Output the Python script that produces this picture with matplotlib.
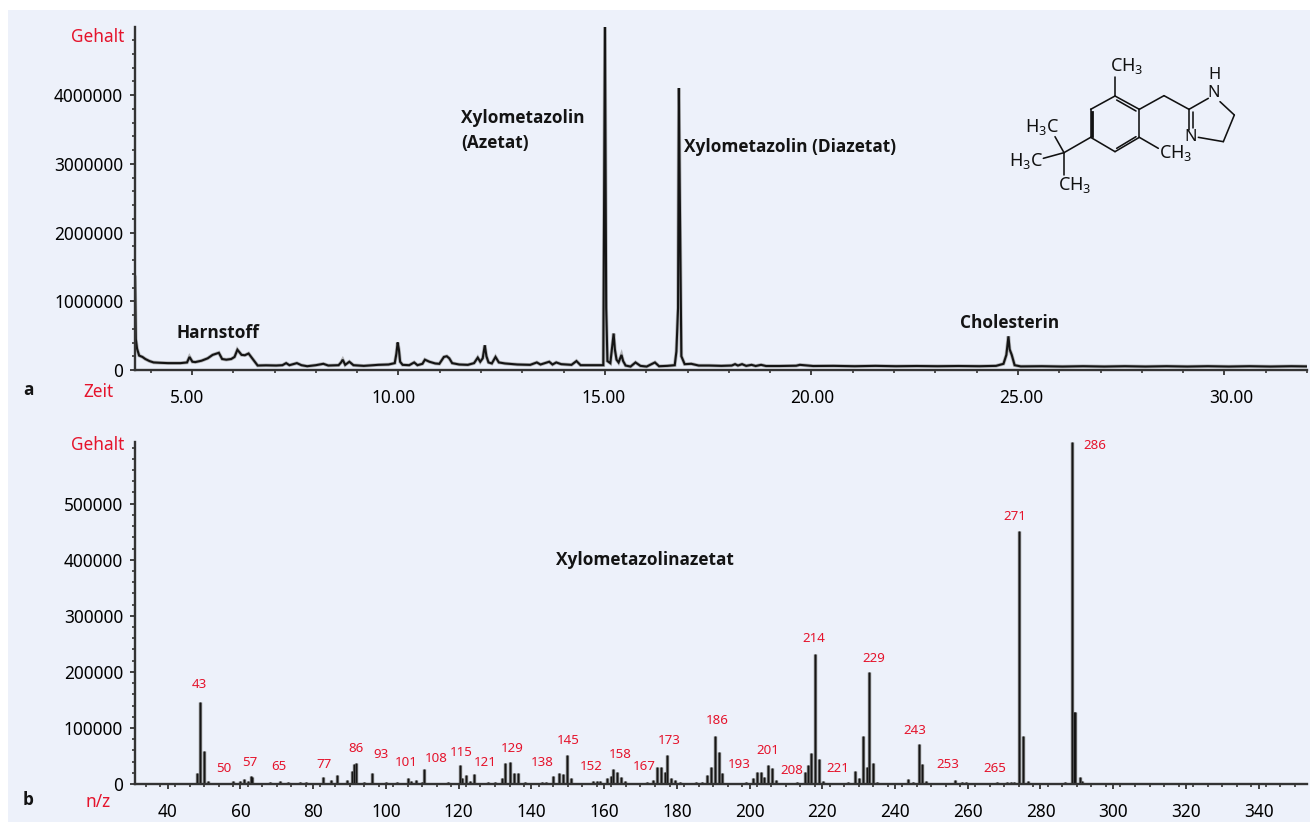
import matplotlib
matplotlib.use("Agg")
import matplotlib.pyplot as plt
from matplotlib.patches import Rectangle
from matplotlib.transforms import ScaledTranslation

plt.rcParams['font.family'] = ['Noto Sans', 'DejaVu Sans']
plt.rcParams['mathtext.default'] = 'regular'

# ---- data ----
tic_time = [3.62, 3.64, 3.67, 3.72, 3.80, 3.87, 3.97, 4.07, 4.22, 4.42, 4.72, 4.88, 4.94, 5.01, 5.08, 5.23, 5.38, 5.50, 5.65,
            5.73, 5.83, 5.95, 6.03, 6.10, 6.20, 6.28, 6.37, 6.47, 6.59, 6.79, 7.04, 7.19, 7.28, 7.36, 7.54, 7.65, 7.79, 8.00,
            8.18, 8.30, 8.55, 8.61, 8.65, 8.71, 8.81, 8.91, 9.16, 9.51, 9.76, 9.91, 9.95, 9.98, 10.01, 10.04, 10.10, 10.26,
            10.38, 10.46, 10.58, 10.64, 10.75, 10.89, 10.99, 11.10, 11.17, 11.23, 11.30, 11.47, 11.68, 11.83, 11.92, 11.98,
            12.04, 12.09, 12.13, 12.18, 12.26, 12.35, 12.43, 12.58, 12.88, 13.19, 13.35, 13.44, 13.65, 13.73, 13.82, 13.94,
            14.19, 14.31, 14.41, 14.70, 14.96, 14.98, 15.00, 15.02, 15.03, 15.06, 15.13, 15.21, 15.24, 15.28, 15.33, 15.40,
            15.44, 15.50, 15.62, 15.74, 15.86, 16.01, 16.21, 16.31, 16.51, 16.69, 16.73, 16.77, 16.79, 16.81, 16.85, 16.93,
            17.09, 17.27, 17.52, 17.82, 18.07, 18.15, 18.22, 18.32, 18.42, 18.55, 18.65, 18.78, 18.90, 19.23, 19.63, 19.72,
            20.04, 20.54, 21.05, 21.55, 22.05, 22.55, 23.06, 23.56, 24.07, 24.47, 24.65, 24.72, 24.77, 24.80, 24.85, 24.92,
            25.07, 25.58, 26.08, 26.58, 27.09, 27.59, 28.09, 28.60, 29.10, 29.60, 30.11, 30.61, 31.12, 31.62, 32.00]
tic_signal = [1350000, 450000, 310000, 210000, 190000, 160000, 130000, 110000, 105000, 100000, 100000, 110000, 190000, 120000,
              115000, 135000, 170000, 220000, 250000, 160000, 150000, 160000, 190000, 295000, 220000, 215000, 240000, 160000,
              65000, 68000, 65000, 70000, 100000, 70000, 100000, 70000, 55000, 70000, 90000, 65000, 70000, 110000, 150000, 75000,
              120000, 70000, 60000, 75000, 80000, 100000, 240000, 400000, 300000, 120000, 75000, 70000, 110000, 70000, 90000, 150000,
              120000, 95000, 90000, 190000, 200000, 170000, 100000, 80000, 75000, 100000, 180000, 120000, 170000, 360000, 200000,
              110000, 95000, 190000, 110000, 95000, 80000, 75000, 110000, 80000, 120000, 80000, 110000, 85000, 75000, 130000,
              70000, 70000, 70000, 2700000, 5000000, 2000000, 900000, 130000, 100000, 530000, 300000, 150000, 110000, 220000,
              130000, 65000, 50000, 110000, 60000, 50000, 110000, 55000, 60000, 70000, 270000, 900000, 4100000, 2700000, 200000,
              85000, 90000, 65000, 65000, 60000, 65000, 85000, 65000, 85000, 60000, 75000, 58000, 75000, 58000, 58000, 62000, 75000,
              58000, 60000, 55000, 60000, 55000, 58000, 55000, 58000, 55000, 60000, 90000, 220000, 490000, 300000, 220000, 70000, 52000,
              55000, 50000, 55000, 50000, 55000, 50000, 55000, 50000, 55000, 50000, 55000, 50000, 55000, 52000]

ms_mz = [48, 48.8, 49.9, 51, 58, 60, 60.9, 62, 62.8, 63.3, 68, 70.8, 73, 76.3, 78, 82.6, 84.8, 86.6, 89.2, 90.8, 91.2, 91.8,
         94, 96.2, 100, 103, 106.2, 107, 108.3, 109.8, 110.6, 117, 120.4, 120.8, 122, 123.1, 124.2, 128, 130, 131.8, 132.8, 134,
         135.3, 136.3, 138.2, 143, 144.1, 146, 147.6, 148.7, 149.9, 151, 157, 158, 159, 160.8, 162, 162.5, 163.6, 164.6, 165.7,
         171.7, 173.5, 174.6, 175.6, 176.7, 177.4, 178.4, 179.5, 180.8, 185.4, 187, 188.4, 189.4, 190.5, 191.6, 192.5, 197, 199,
         201, 202.1, 203.1, 204, 205.2, 206.3, 207.4, 213, 215.2, 216.2, 216.9, 218, 219, 220.1, 224, 227, 229, 230, 231.1,
         232.2, 232.9, 233.9, 235, 240, 243.5, 245, 246.5, 247.5, 248.5, 252, 256.4, 258.3, 259.4, 268, 270.7, 272, 272.6, 274.0,
         275.3, 276.6, 286.7, 288.8, 289.2, 289.6, 290.8, 291.5]
ms_intensity = [19000, 146000, 58000, 5000, 5000, 5000, 9000, 6000, 14000, 12000, 3000, 5000, 3000, 3000, 3000, 12000, 7000,
                16000, 8000, 24000, 35000, 37000, 3000, 19000, 3000, 3000, 10000, 6000, 8000, 4000, 27000, 3000, 33000, 10000,
                16000, 6000, 17000, 3000, 3000, 10000, 38000, 40000, 19000, 19000, 4000, 3000, 4000, 15000, 19000, 17000, 51000,
                10000, 6000, 6000, 6000, 11000, 14000, 27000, 22000, 12000, 5000, 4000, 8000, 31000, 31000, 22000, 52000, 10000,
                8000, 3000, 4000, 4000, 16000, 30000, 85000, 57000, 19000, 2000, 3000, 10000, 22000, 22000, 13000, 34000, 29000,
                7000, 4000, 22000, 33000, 55000, 231000, 45000, 5000, 2000, 4000, 23000, 10000, 86000, 30000, 200000, 37000,
                4000, 2000, 9000, 3000, 72000, 35000, 5000, 2000, 8000, 4000, 3000, 3000, 3000, 4000, 4000, 451000, 85000, 6000,
                4000, 610000, 128000, 128000, 12000, 5000]

tic_ticks = [5, 10, 15, 20, 25, 30]
tic_tick_labels = ['5.00', '10.00', '15.00', '20.00', '25.00', '30.00']
tic_label_shift_px = [-5, -5, -1, 1, 3, 7]
tic_yticks = [0, 1000000, 2000000, 3000000, 4000000]
ms_ticks = list(range(40, 341, 20))
ms_yticks = [0, 100000, 200000, 300000, 400000, 500000]
ms_peak_labels = ['43', '50', '57', '65', '77', '86', '93', '101', '108', '115', '121', '129', '138', '145', '152',
                  '158', '167', '173', '186', '193', '201', '208', '214', '221', '229', '243', '253', '265', '271', '286']
ms_label_px = [(199, 684), (224, 768), (250, 763), (279, 767), (324, 765), (356, 749), (381, 755), (406, 763), (436, 759),
               (461, 753), (485, 762), (512, 749), (542, 762), (568, 740), (591, 767), (620, 755), (644, 767), (669, 740),
               (717, 720), (739, 765), (768, 750), (792, 770), (814, 639), (838, 768), (874, 659), (915, 731), (948, 765),
               (995, 769), (1015, 516), (1095, 445)]

# ---- layout ----
W, H = 1310, 824
BG = '#edf1fa'
RED = '#e5142c'
DARK = '#141414'
FS = 12.4
BOLD = dict(family='Open Sans', fontweight='bold', color=DARK, fontsize=12.4)


def X(px):
    return px / W


def Y(py):
    return 1 - py / H


def label(px, py, s, **kw):
    kw.setdefault('ha', 'center')
    kw.setdefault('va', 'center')
    kw.setdefault('fontsize', FS)
    fig.text(X(px), Y(py), s, **kw)


fig = plt.figure(figsize=(W / 100, H / 100), dpi=100, facecolor='white')
fig.patches.append(Rectangle((X(8), Y(822)), 1 - X(8), Y(10) - Y(822), transform=fig.transFigure,
                             facecolor=BG, edgecolor='none', zorder=-5))


def make_axes(top, bottom):
    ax = fig.add_axes([X(135), Y(bottom), X(1307) - X(135), Y(top) - Y(bottom)])
    ax.patch.set_alpha(0)
    for side in ('top', 'right'):
        ax.spines[side].set_visible(False)
    for side in ('left', 'bottom'):
        ax.spines[side].set_linewidth(1.7)
        ax.spines[side].set_color('#333333')
    ax.tick_params(which='major', axis='both', length=3.5, width=1.3, color='#333333', labelsize=FS, pad=5)
    ax.tick_params(which='minor', axis='both', length=2.5, width=1.3, color='#444444')
    ax.tick_params(axis='x', which='major', pad=10)
    return ax


# ---- panel a ----
ax1 = make_axes(27, 370)
ax1.plot(tic_time, tic_signal, color='#8a8a8a', lw=2.6, alpha=0.6, solid_joinstyle='miter')
ax1.plot(tic_time, tic_signal, color=DARK, lw=1.5, solid_joinstyle='miter')
ax1.set_xlim(3.62, 32.0)
ax1.set_ylim(0, 4990000)
ax1.set_xticks(tic_ticks, tic_tick_labels)
ax1.set_xticks(range(4, 33), minor=True)
ax1.set_yticks(tic_yticks, [str(v) for v in tic_yticks])
ax1.set_yticks(range(0, 5000000, 200000), minor=True)
for tick_label, shift in zip(ax1.get_xticklabels(), tic_label_shift_px):
    tick_label.set_transform(tick_label.get_transform() + ScaledTranslation(shift / 100, 0, fig.dpi_scale_trans))

# ---- panel b ----
ax2 = make_axes(442, 784)
ax2.vlines(ms_mz, 0, ms_intensity, color='#6a6a6a', lw=2.4)
ax2.vlines(ms_mz, 0, ms_intensity, color='#151515', lw=1.0)
ax2.set_xlim(31, 353.3)
ax2.set_ylim(0, 610000)
ax2.set_xticks(ms_ticks, [str(v) for v in ms_ticks])
ax2.set_xticks(range(34, 353, 4), minor=True)
ax2.set_yticks(ms_yticks, [str(v) for v in ms_yticks])
ax2.set_yticks(range(0, 610000, 20000), minor=True)

# ---- texts ----
for py, s in [(37, 'Gehalt'), (445, 'Gehalt'), (392, 'Zeit'), (802, 'n/z')]:
    label(98, py, s, color=RED)
label(28, 390, 'a', **BOLD)
label(28, 800, 'b', **BOLD)
label(218, 333, 'Harnstoff', **BOLD)
label(461, 118, 'Xylometazolin', ha='left', **BOLD)
label(461, 143, '(Azetat)', ha='left', **BOLD)
label(684, 147, 'Xylometazolin (Diazetat)', ha='left', **BOLD)
label(1010, 323, 'Cholesterin', **BOLD)
label(645, 560, 'Xylometazolinazetat', **BOLD)
for s, (px, py) in zip(ms_peak_labels, ms_label_px):
    label(px, py, s, color=RED, fontsize=9.6)

# ---- structural formula (drawing, not data) ----
bonds = [((375, 168), (448, 208)), ((448, 208), (448, 292)), ((448, 292), (375, 335)), ((375, 335), (302, 292)),
         ((302, 292), (302, 208)), ((302, 208), (375, 168)), ((380, 180), (438, 213)), ((438, 290), (380, 325)),
         ((375, 168), (375, 110)), ((448, 208), (522, 167)), ((522, 167), (597, 208)), ((597, 208), (655, 175)),
         ((690, 185), (733, 225)), ((733, 225), (700, 305)), ((700, 305), (625, 292)), ((597, 208), (597, 270)),
         ((609, 215), (609, 265)), ((448, 292), (505, 325)), ((302, 292), (222, 338)), ((222, 338), (195, 290)),
         ((222, 338), (160, 355)), ((222, 338), (222, 405))]
overlay = fig.add_axes([0, 0, 1, 1], zorder=5)
overlay.patch.set_alpha(0)
overlay.axis('off')
overlay.set_xlim(0, W)
overlay.set_ylim(H, 0)


def mol(x, y):
    return 990 + x / 3, 40 + y / 3


for a, b in bonds:
    (x0, y0), (x1, y1) = mol(*a), mol(*b)
    overlay.plot([x0, x1], [y0, y1], color='#111111', lw=1.15, solid_capstyle='round')
(x0, y0), (x1, y1) = mol(306, 215), mol(306, 288)
overlay.plot([x0, x1], [y0, y1], color='#111111', lw=2.0)
for (x, y), s in [((410, 78), r'CH$_3$'), ((558, 340), r'CH$_3$'), ((155, 262), r'H$_3$C'), ((108, 362), r'H$_3$C'),
                  ((255, 435), r'CH$_3$')]:
    px, py = mol(x, y)
    overlay.text(px, py, s, ha='center', va='center', fontsize=13, color='#111111')
for (x, y), s in [((672, 104), 'H'), ((672, 160), 'N'), ((602, 292), 'N')]:
    px, py = mol(x, y)
    overlay.text(px, py, s, ha='center', va='center', fontsize=11.8, color='#111111')

fig.savefig('out.png', dpi=100, facecolor='white')
